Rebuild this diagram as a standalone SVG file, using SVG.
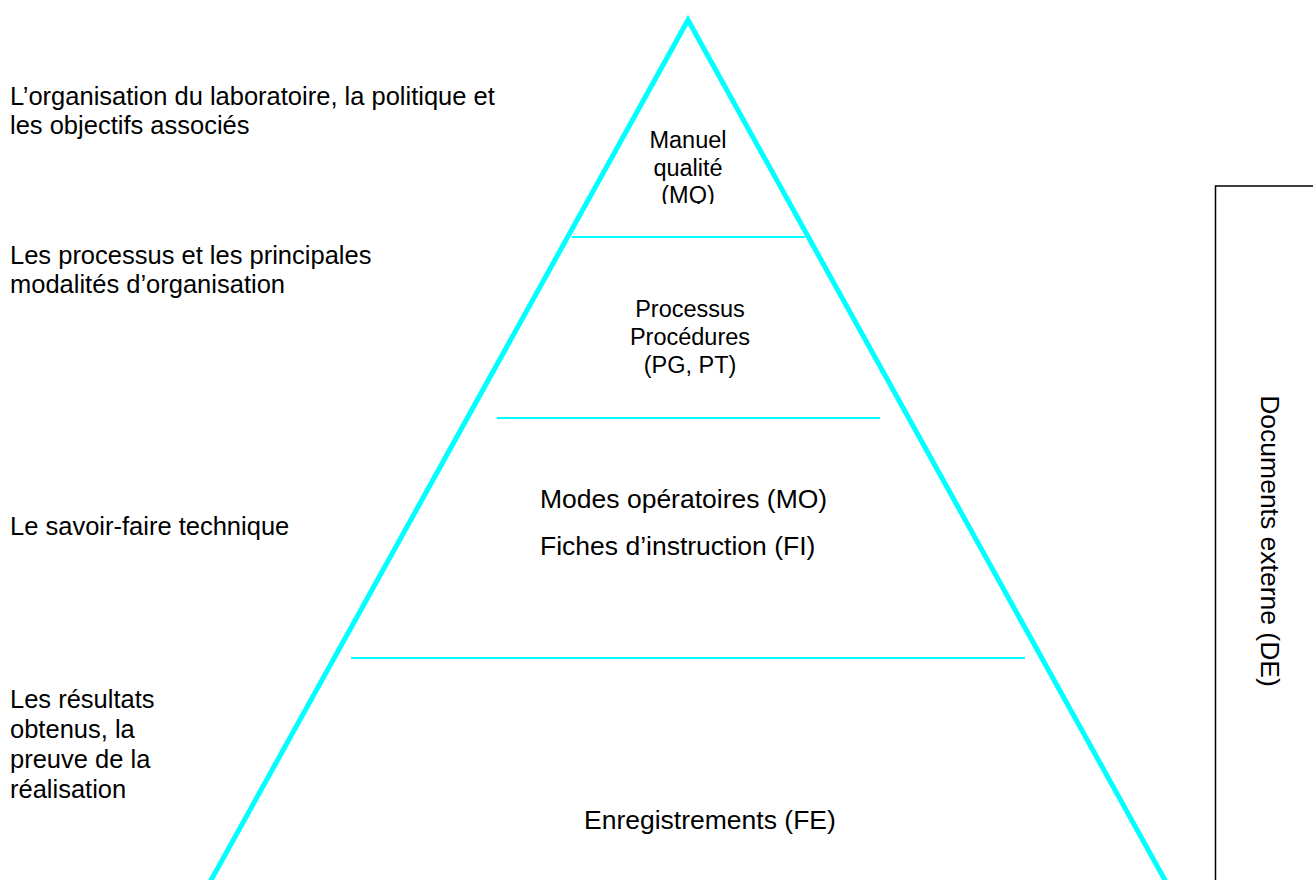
<svg xmlns="http://www.w3.org/2000/svg" width="1313" height="880" viewBox="0 0 1313 880">
<style>
.t{font-family:"Liberation Sans",Arial,Helvetica,sans-serif;fill:#000;}
.side{font-size:25.5px;}
.in{font-size:23.5px;}
.big{font-size:26.5px;}
.edge{fill:none;stroke:#00FFFF;stroke-width:5;stroke-linejoin:miter;}
.div{stroke:#00FFFF;stroke-width:2;}
</style>
<defs>
<clipPath id="mqclip"><rect x="600" y="100" width="180" height="104"/></clipPath>
</defs>
<rect width="1313" height="880" fill="#fff"/>
<g id="pyramid">
<polyline class="edge" points="210,882 688,20 1166,882"/>
</g>
<g id="dividers">
<line class="div" x1="572" y1="237" x2="805" y2="237"/>
<line class="div" x1="497" y1="418" x2="880" y2="418"/>
<line class="div" x1="351" y1="658" x2="1025" y2="658"/>
</g>
<g id="node-mq" clip-path="url(#mqclip)">
<text class="t in" text-anchor="middle" x="688" y="148">Manuel</text>
<text class="t in" text-anchor="middle" x="688" y="176">qualité</text>
<text class="t in" text-anchor="middle" x="688" y="203">(MQ)</text>
</g>
<g id="node-pg">
<text class="t in" text-anchor="middle" x="690" y="317">Processus</text>
<text class="t in" text-anchor="middle" x="690" y="345">Procédures</text>
<text class="t in" text-anchor="middle" x="690" y="373">(PG, PT)</text>
</g>
<g id="node-mo">
<text class="t big" x="540" y="508">Modes opératoires (MO)</text>
<text class="t big" x="540" y="555">Fiches d’instruction (FI)</text>
</g>
<g id="node-fe">
<text class="t big" x="584" y="829">Enregistrements (FE)</text>
</g>
<g id="labels">
<text class="t side" x="10" y="105">L’organisation du laboratoire, la politique et</text>
<text class="t side" x="10" y="134">les objectifs associés</text>
<text class="t side" x="10" y="264">Les processus et les principales</text>
<text class="t side" x="10" y="293">modalités d’organisation</text>
<text class="t side" x="10" y="535">Le savoir-faire technique</text>
<text class="t side" x="10" y="708">Les résultats</text>
<text class="t side" x="10" y="738">obtenus, la</text>
<text class="t side" x="10" y="768">preuve de la</text>
<text class="t side" x="10" y="798">réalisation</text>
</g>
<g id="node-de">
<rect x="1215.5" y="186" width="120" height="720" fill="none" stroke="#000" stroke-width="1.5"/>
<text class="t big" text-anchor="middle" transform="translate(1261,541) rotate(90)">Documents externe (DE)</text>
</g>
</svg>
